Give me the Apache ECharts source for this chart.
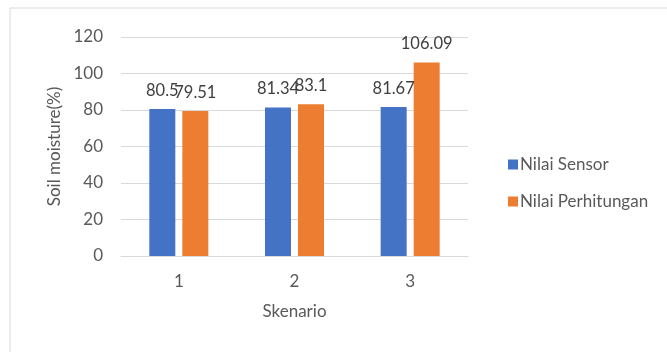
<!DOCTYPE html>
<html>
<head>
<meta charset="utf-8">
<script src="https://cdn.jsdelivr.net/npm/echarts@6/dist/echarts.min.js"></script>
<style>
  html, body { margin: 0; padding: 0; background: #fff; }
  #chart { width: 667px; height: 352px; }
</style>
</head>
<body>
<div id="chart"></div>
<script>
const categories = ['1', '2', '3'];
const sensorValues = [80.5, 81.34, 81.67];
const hitungValues = [79.51, 83.1, 106.09];
const seriesNames = ['Nilai Sensor', 'Nilai Perhitungan'];

const font = 'Lato, "Open Sans", sans-serif';
const labelStyle = {
  show: true,
  position: 'top',
  distance: 10,
  color: '#404040',
  fontSize: 16.5,
  fontFamily: font
};

const chart = echarts.init(document.getElementById('chart'));
chart.setOption({
  animation: false,
  color: ['#4472C4', '#ED7D31'],
  graphic: [{
    type: 'rect',
    shape: { x: 10, y: 8, width: 700, height: 400 },
    style: { fill: 'none', stroke: '#D9D9D9', lineWidth: 1 },
    silent: true
  }],
  legend: {
    data: seriesNames,
    orient: 'vertical',
    left: 503,
    top: 151,
    itemWidth: 10,
    itemHeight: 10,
    itemGap: 20,
    icon: 'rect',
    textStyle: { color: '#595959', fontSize: 17, fontFamily: font, padding: [0, 0, 0, -3] }
  },
  grid: { left: 121, right: 199, top: 37, bottom: 96 },
  xAxis: {
    type: 'category',
    data: categories,
    name: 'Skenario',
    nameLocation: 'middle',
    nameGap: 47,
    nameTextStyle: { color: '#595959', fontSize: 17, fontFamily: font },
    axisLine: { lineStyle: { color: '#D9D9D9' } },
    axisTick: { show: false },
    axisLabel: { color: '#595959', fontSize: 17, fontFamily: font, margin: 17 }
  },
  yAxis: {
    type: 'value',
    min: 0,
    max: 120,
    interval: 20,
    name: 'Soil moisture(%)',
    nameLocation: 'middle',
    nameGap: 54,
    nameTextStyle: { color: '#595959', fontSize: 17, fontFamily: font },
    axisLine: { show: false },
    axisTick: { show: false },
    axisLabel: { color: '#595959', fontSize: 17, fontFamily: font, margin: 18 },
    splitLine: { lineStyle: { color: '#D9D9D9' } }
  },
  series: [
    {
      name: seriesNames[0],
      type: 'bar',
      barWidth: 26,
      barGap: '27%',
      label: labelStyle,
      data: sensorValues
    },
    {
      name: seriesNames[1],
      type: 'bar',
      barWidth: 26,
      barGap: '27%',
      label: labelStyle,
      data: hitungValues
    }
  ]
});
</script>
</body>
</html>
